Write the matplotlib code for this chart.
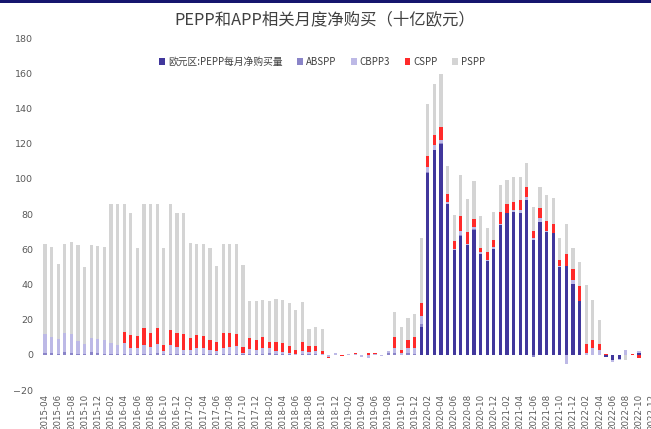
import matplotlib
matplotlib.use("Agg")
import matplotlib.pyplot as plt
from matplotlib import font_manager
from matplotlib.patches import Patch, Rectangle
import numpy as np

# Monthly categories 2015-04 .. 2022-12
months = (
    ["2015-%02d" % m for m in range(4, 13)]
    + ["%d-%02d" % (y, m) for y in range(2016, 2023) for m in range(1, 13)]
)

# Net purchases, EUR bn (one row per calendar year)
pepp = [
    0, 0, 0, 0, 0, 0, 0, 0, 0,
    0, 0, 0, 0, 0, 0, 0, 0, 0, 0, 0, 0,
    0, 0, 0, 0, 0, 0, 0, 0, 0, 0, 0, 0,
    0, 0, 0, 0, 0, 0, 0, 0, 0, 0, 0, 0,
    0, 0, 0, 0, 0, 0, 0, 0, 0, 0, 0, 0,
    15.6, 103.2, 116.2, 120.0, 85.5, 59.8, 67.6, 62.3, 70.9, 57.1, 53.3, 60.2,
    73.7, 80.4, 81.0, 80.4, 88.0, 65.1, 75.6, 69.9, 69.0, 49.9, 50.3, 40.4,
    30.5, 0, 0, 0, -1.5, -2.8, -2.5, 0, 0, 1.0, 0, 0,
]
abspp = [
    1.2, 0.8, 0.6, 1.5, 1.3, 0.5, 0.3, 1.4, 1.0,
    0.4, 0.3, 0.3, 0.4, 0.3, 0.5, 0.6, 0.3, 0.8, 0.3, 0.4, 0.4,
    0.3, 0.2, 0.4, 0.3, 0.3, 0.2, 0.4, 0.3, 0.5, 0.2, 0.3, 0.2,
    0.3, 0.8, 0.2, 0.2, 0.2, 0.1, 0.3, 0.2, 0.2, 0.1, 0, 0,
    0, 0, 0, 0, 0, 0, 0, 1.0, 1.3, 0, 0.8, 0.6,
    2.0, 0.5, 0.4, 0.3, 0.2, 0, 0.5, 0, 0.3, 0, 0, 0,
    0, 0, 0, 0, 0, -1.5, 0, 0, 0, 0, 0, 0,
    0, 0, 0, 0, 0, 0, 0, 0, 0, 0, 0, 0,
]
cbpp3 = [
    10.6, 9.5, 8.4, 10.7, 10.5, 7.1, 5.8, 8.1, 7.8,
    8.0, 6.6, 5.4, 6.3, 3.7, 3.1, 4.7, 3.9, 5.5, 1.6, 4.9, 4.2,
    2.7, 2.6, 3.2, 3.3, 2.6, 2.1, 3.4, 3.9, 4.3, 1.1, 2.9, 2.7,
    3.3, 2.8, 2.1, 1.3, 1.1, 0.5, 2.0, 1.5, 1.7, 0.3, -1.5, 0.8,
    0, 0.6, 0.3, -1.2, -1.8, 0.3, -0.5, 1.2, 2.5, 1.1, 3.0, 3.2,
    4.7, 2.9, 2.8, 1.6, 0.9, 0.5, 2.2, 0.5, 1.2, 1.3, 0.3, 1.1,
    0.6, 0.3, 1.0, 1.9, 1.9, 1.0, 1.9, 0.6, 0.4, 0.4, -5.3, 2.3,
    0, 1.3, 3.6, 2.9, 0, -1.5, -0.5, 2.8, 0, 1.3, 0, 0,
]
cspp = [
    0, 0, 0, 0, 0, 0, 0, 0, 0,
    0, 0, 0, 6.5, 7.2, 6.9, 9.9, 8.4, 9.0, 3.8, 8.6, 7.8,
    8.6, 7.0, 7.6, 7.2, 5.5, 5.0, 8.4, 8.2, 7.2, 3.2, 6.3, 5.7,
    6.7, 3.4, 5.1, 5.0, 3.8, 2.1, 4.8, 3.4, 3.2, 1.9, -0.5, 0.4,
    -0.5, 0, 0.6, 0, 0.8, 1.0, 0, 0, 6.1, 1.9, 4.6, 6.1,
    7.0, 6.1, 5.7, 7.6, 4.6, 4.4, 8.6, 7.0, 4.8, 2.5, 4.8, 4.2,
    7.0, 4.8, 5.1, 5.7, 5.3, 4.2, 5.7, 5.5, 5.0, 3.4, 6.9, 6.3,
    8.4, 5.1, 5.0, 3.2, 0.5, 0, 0, 0, 0.6, -1.9, 0, 0,
]
pspp = [
    51.4, 51.0, 42.8, 51.0, 52.2, 54.9, 43.9, 53.0, 53.2,
    52.9, 78.6, 79.8, 72.3, 69.6, 50.3, 70.3, 72.9, 70.2, 55.1, 71.6, 68.4,
    68.8, 53.8, 51.7, 51.9, 52.2, 43.0, 50.8, 50.3, 50.7, 46.4, 20.8, 21.7,
    20.6, 23.7, 24.2, 24.9, 24.4, 22.8, 23.0, 9.6, 10.5, 12.6, 0, 0,
    0, 0, 0, 0, 0, 0, 0, 0, 14.3, 12.6, 12.6, 13.3,
    37.2, 30.0, 28.9, 29.9, 16.2, 14.7, 23.1, 18.8, 21.3, 18.0, 13.4, 15.6,
    14.9, 13.9, 13.7, 13.3, 13.8, 13.5, 12.0, 14.9, 14.9, 12.4, 17.1, 11.8,
    13.9, 33.4, 22.3, 13.7, 0, 0, 0, -3.0, 0, 0, 0, 0,
]

series_names = ["欧元区:PEPP每月净购买量", "ABSPP", "CBPP3", "CSPP", "PSPP"]
series_values = [pepp, abspp, cbpp3, cspp, pspp]
series_colors = ["#41379c", "#8a84c8", "#bdb9e6", "#ff2a2a", "#d4d4d4"]

installed = {f.name for f in font_manager.fontManager.ttflist}
latin = "Liberation Sans Narrow" if "Liberation Sans Narrow" in installed else "DejaVu Sans"
cjk_family = ["Noto Sans CJK SC", "DejaVu Sans"]

fig = plt.figure(figsize=(6.51, 4.29), dpi=100)
W, H = 651.0, 429.0
ax = fig.add_axes([40 / W, 39 / H, 618.8 / W, 352 / H])

x = np.arange(len(months))
pos_bottom = np.zeros(len(months))
neg_bottom = np.zeros(len(months))
for vals, color in zip(series_values, series_colors):
    v = np.asarray(vals, dtype=float)
    bottoms = np.where(v >= 0, pos_bottom, neg_bottom)
    ax.bar(x, v, width=0.46, bottom=bottoms, color=color, linewidth=0)
    pos_bottom += np.where(v > 0, v, 0)
    neg_bottom += np.where(v < 0, v, 0)

ax.set_ylim(-20, 180)
ax.set_xlim(-0.76, 93)
ax.set_yticks(np.arange(-20, 181, 20))
ax.set_xticks(x[::2])
ax.set_xticklabels(months[::2], rotation=90, fontsize=6.2, color="#595959",
                   family=latin)
for lab in ax.get_yticklabels():
    lab.set_fontsize(6.8)
    lab.set_color("#595959")
    lab.set_family(latin)
ax.tick_params(axis="both", length=0)
ax.tick_params(axis="y", pad=5)
ax.tick_params(axis="x", pad=3)
for s in ax.spines.values():
    s.set_visible(False)

# Title and legend
fig.text(325 / W, 1 - 20 / H, "PEPP和APP相关月度净购买（十亿欧元）",
         ha="center", va="center", fontsize=11.8, color="#404040",
         family=cjk_family)
handles = [Patch(facecolor=c, edgecolor="none") for c in series_colors]
fig.legend(handles, series_names, loc="center",
           bbox_to_anchor=(322 / W, 1 - 62 / H), ncol=5, frameon=False,
           handlelength=0.6, handleheight=0.6, handletextpad=0.3,
           columnspacing=1.5, labelcolor="#404040",
           prop={"family": ["Noto Sans CJK SC", "DejaVu Sans"], "size": 7})

# Dark band along the top edge
fig.patches.append(Rectangle((0, 1 - 3 / H), 1, 3 / H, transform=fig.transFigure,
                             facecolor="#16166e", edgecolor="none"))

fig.savefig("out.png", dpi=100)
